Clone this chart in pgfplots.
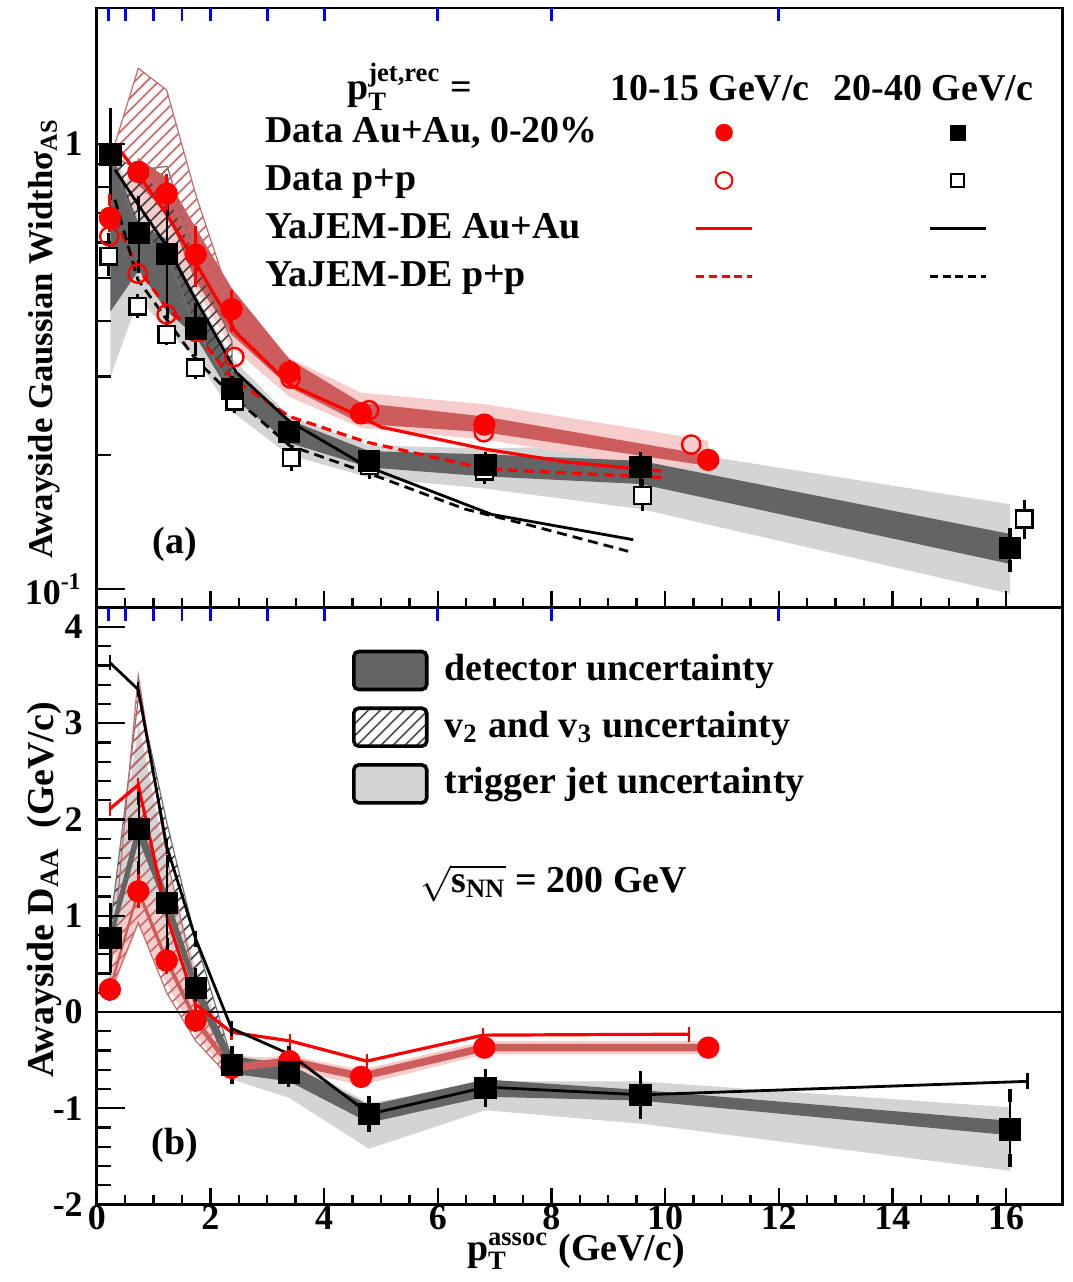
\documentclass[border=0pt]{standalone}
\usepackage{fontspec}
\setmainfont{Liberation Serif}
\usepackage{amsmath}
\usepackage{pgfplots}
\pgfplotsset{compat=1.18}
\usetikzlibrary{patterns}
\definecolor{detgray}{RGB}{100,100,100}
\definecolor{detred}{RGB}{205,92,92}
\definecolor{trggray}{RGB}{212,212,212}
\definecolor{trgred}{RGB}{246,204,204}
\definecolor{hatchred}{RGB}{200,105,105}
\pgfplotsset{
  mkleg/.style={legend image code/.code={\draw[##1] plot coordinates {(7pt,0pt)};}},
  lnleg/.style={legend image code/.code={\draw[##1] (0pt,0pt) -- (14pt,0pt);}},
  panel/.style={scale only axis, width=242pt, xmin=0, xmax=17,
    xtick={0,2,...,16}, minor x tick num=3, xtick pos=lower, ytick pos=left,
    tick align=inside, axis line style={line width=0.7pt},
    tick style={black, line width=0.6pt},
    xtick style={/pgfplots/major tick length=4.25pt,/pgfplots/minor tick length=2.5pt},
    ytick style={/pgfplots/major tick length=7pt,/pgfplots/minor tick length=3.5pt},
    axis on top,
    tick label style={font=\bfseries\fontsize{9}{10}\selectfont},
    xticklabel style={yshift=3.2pt},
    label style={font=\bfseries\fontsize{9.5}{11}\selectfont}},
  blueticks/.style={scale only axis, width=242pt, xmin=0, xmax=17, ymin=0, ymax=1,
    axis line style={draw=none}, ytick=\empty,
    xtick={0.2,0.5,1,1.5,2,3,4,6,8,12}, xticklabels={}, xtick pos=upper,
    tick align=inside, major tick length=3.3pt, tick style={blue, line width=0.7pt}},
  databar/.style={error bars/.cd, y dir=both, y explicit, error mark=-,
    error bar style={black, line width=0.6pt},
    error mark options={black, mark size=1.6pt, line width=0.8pt}},
}
\begin{document}
\begin{tikzpicture}[font=\bfseries\fontsize{9.5}{11}\selectfont]
% ---------------- TOP PANEL ----------------
\begin{axis}[panel, name=top, at={(0,0)}, anchor=north west, height=150.25pt,
  ymode=log, ymin=0.0907, ymax=2.02, ytick={0.1,1}, yticklabels={10\textsuperscript{-1},1},
  minor ytick={0.2,0.3,0.4,0.5,0.6,0.7,0.8,0.9}, xticklabels={},
  ylabel={Awayside Gaussian Widthσ$_{\text{AS}}$},
  ylabel style={at={(axis description cs:-0.054,0.449)}, rotate=0, anchor=center, font=\bfseries\fontsize{8.7}{10}\selectfont},
  legend columns=3, legend cell align=left,
  legend style={at={(rel axis cs:0.1736,0.8236)}, anchor=north west, draw=none, fill=none,
    inner sep=0pt, row sep=3pt,
    nodes={inner sep=0pt, text height=7pt, text depth=2pt},
    /tikz/column 2/.style={column sep=24.25pt},
    /tikz/column 4/.style={column sep=42.75pt}}]
% trigger jet bands
\addplot[fill=trggray, draw=none, forget plot] coordinates {
 (0.24,1.0) (0.74,0.70) (1.24,0.68) (1.74,0.46) (2.38,0.33) (3.38,0.245) (4.79,0.21) (6.84,0.207) (9.57,0.2097) (16.07,0.155)
 (16.07,0.0975) (9.57,0.1512) (6.84,0.168) (4.79,0.178) (3.38,0.20) (2.38,0.25) (1.74,0.33) (1.24,0.38) (0.74,0.45) (0.24,0.30)};
\addplot[fill=trgred, draw=none, forget plot] coordinates {
 (0.23,0.70) (0.73,0.93) (1.23,0.84) (1.74,0.62) (2.37,0.46) (3.39,0.33) (4.65,0.276) (6.82,0.26) (9.6,0.228) (10.76,0.215)
 (10.76,0.187) (9.6,0.19) (6.82,0.2166) (4.65,0.230) (3.39,0.27) (2.37,0.35) (1.74,0.47) (1.23,0.60) (0.73,0.72) (0.23,0.66)};
% detector bands
\addplot[fill=detgray, draw=none, forget plot] coordinates {
 (0.24,0.97) (0.74,0.66) (1.24,0.61) (1.74,0.447) (2.38,0.31) (3.38,0.24) (4.79,0.204) (6.84,0.2006) (9.57,0.194) (16.07,0.1329)
 (16.07,0.1138) (9.57,0.1721) (6.84,0.179) (4.79,0.1875) (3.38,0.213) (2.38,0.27) (1.74,0.369) (1.24,0.42) (0.74,0.52) (0.24,0.42)};
\addplot[fill=detred, draw=none, forget plot] coordinates {
 (0.72,0.93) (1.23,0.839) (1.74,0.648) (2.37,0.475) (3.39,0.328) (4.65,0.262) (6.82,0.244) (10.76,0.1997)
 (10.76,0.189) (6.82,0.225) (4.65,0.235) (3.39,0.284) (2.37,0.373) (1.74,0.491) (1.23,0.705) (0.72,0.81)};
% v2 v3 bands
\addplot[pattern=north east lines, pattern color=black!75, draw=black!55, line width=0.3pt, forget plot] coordinates {
 (0.24,0.945) (0.74,0.875) (1.24,0.89) (1.74,0.55) (2.38,0.36)
 (2.38,0.281) (1.74,0.385) (1.24,0.566) (0.74,0.631) (0.24,0.945)};
\addplot[pattern=north east lines, pattern color=hatchred, draw=hatchred, line width=0.3pt, forget plot] coordinates {
 (0.32,1.0) (0.73,1.479) (1.23,1.321) (1.74,0.77) (2.37,0.44)
 (2.37,0.425) (1.74,0.564) (1.23,0.773) (0.73,0.865) (0.32,1.0)};
% YaJEM-DE curves
\addplot[red, line width=0.8pt, forget plot] coordinates {
 (0.32,1.0) (0.75,0.847) (1.23,0.694) (1.74,0.541) (2.45,0.377) (3.39,0.288) (4.67,0.243) (5.0,0.231) (6.84,0.206) (8.24,0.193) (9.93,0.184)};
\addplot[red, line width=0.8pt, dash pattern=on 2.5pt off 1.5pt, forget plot] coordinates {
 (0.32,0.68) (0.72,0.527) (1.23,0.428) (1.74,0.377) (2.39,0.296) (3.39,0.244) (4.73,0.214) (6.84,0.186) (9.93,0.178)};
\addplot[black, line width=0.7pt, forget plot] coordinates {
 (0.32,0.875) (0.75,0.723) (1.23,0.589) (1.74,0.447) (2.45,0.307) (3.39,0.238) (4.73,0.189) (6.95,0.147) (9.44,0.129)};
\addplot[black, line width=0.7pt, dash pattern=on 2.5pt off 1.5pt, forget plot] coordinates {
 (0.32,0.749) (0.72,0.496) (1.23,0.403) (1.74,0.328) (2.45,0.267) (3.39,0.210) (4.73,0.183) (6.49,0.151) (7.65,0.1387) (9.35,0.1215)};
% data p+p
\addplot[only marks, mark=square*, mark size=2.1pt, mark options={fill=white, draw=black, line width=0.6pt}, forget plot, databar] coordinates {
 (0.21,0.559) += (0,0.051) -= (0,0.037)
 (0.72,0.432) += (0,0.012) -= (0,0.012)
 (1.23,0.373) += (0,0.008) -= (0,0.008)
 (1.74,0.314) += (0,0.008) -= (0,0.008)
 (2.43,0.264) += (0,0.007) -= (0,0.007)
 (3.42,0.197) += (0,0.007) -= (0,0.007)
 (4.80,0.189) += (0,0.006) -= (0,0.006)
 (6.82,0.184) += (0,0.006) -= (0,0.006)
 (9.60,0.162) += (0,0.009) -= (0,0.0075)
 (16.32,0.1436) += (0,0.010) -= (0,0.010)};
\addplot[only marks, mark=o, mark size=2.3pt, red, line width=0.6pt, forget plot] coordinates {
 (0.22,0.620) (0.72,0.511) (1.23,0.414) (1.74,0.378) (2.42,0.332) (3.41,0.297) (4.79,0.252) (6.81,0.225) (10.46,0.211)};
% data Au+Au
\addplot[only marks, mark=square*, mark size=2.6pt, black, forget plot, databar] coordinates {
 (0.24,0.945) += (0,0.22) -= (0,0.17)
 (0.74,0.631) += (0,0.107) -= (0,0.10)
 (1.24,0.566) += (0,0.145) -= (0,0.148)
 (1.74,0.385) += (0,0.04) -= (0,0.04)
 (2.38,0.281) += (0,0.01) -= (0,0.01)
 (3.38,0.225) += (0,0.008) -= (0,0.008)
 (4.79,0.194) += (0,0.005) -= (0,0.005)
 (6.84,0.190) += (0,0.006) -= (0,0.006)
 (9.57,0.188) += (0,0.008) -= (0,0.012)
 (16.07,0.1236) += (0,0.0093) -= (0,0.011)};
\addplot[only marks, mark=*, mark size=2.6pt, red, forget plot,
  error bars/.cd, y dir=both, y explicit, error mark=-,
  error bar style={red, line width=0.6pt}, error mark options={red, mark size=1.4pt, line width=0.8pt}] coordinates {
 (0.23,0.682) += (0,0.067) -= (0,0.028)
 (0.73,0.865) += (0,0.02) -= (0,0.02)
 (1.23,0.773) += (0,0.057) -= (0,0.04)
 (1.74,0.564) += (0,0.071) -= (0,0.073)
 (2.37,0.425) += (0,0.03) -= (0,0.036)
 (3.39,0.307) += (0,0.01) -= (0,0.01)
 (4.65,0.248) += (0,0.005) -= (0,0.005)
 (6.82,0.234) += (0,0.005) -= (0,0.005)
 (10.76,0.195) += (0,0.004) -= (0,0.004)};
% legend
\addlegendimage{empty legend}\addlegendentry{Data Au+Au, 0-20\%}
\addlegendimage{mkleg, only marks, mark=*, red, mark size=2pt}\addlegendentry{\mbox{}}
\addlegendimage{mkleg, only marks, mark=square*, black, mark size=1.8pt}\addlegendentry{\mbox{}}
\addlegendimage{empty legend}\addlegendentry{Data p+p}
\addlegendimage{mkleg, only marks, mark=o, red, mark size=2.1pt, line width=0.5pt}\addlegendentry{\mbox{}}
\addlegendimage{mkleg, only marks, mark=square, black, mark size=1.6pt, line width=0.5pt}\addlegendentry{\mbox{}}
\addlegendimage{empty legend}\addlegendentry{YaJEM-DE Au+Au}
\addlegendimage{lnleg, red, line width=0.8pt}\addlegendentry{\mbox{}}
\addlegendimage{lnleg, black, line width=0.8pt}\addlegendentry{\mbox{}}
\addlegendimage{empty legend}\addlegendentry{YaJEM-DE p+p}
\addlegendimage{lnleg, red, line width=0.8pt, dash pattern=on 2pt off 1.2pt}\addlegendentry{\mbox{}}
\addlegendimage{lnleg, black, line width=0.8pt, dash pattern=on 2pt off 1.2pt}\addlegendentry{\mbox{}}
\node at (rel axis cs:0.324,0.8686) {p$^{\text{jet,rec}}_{\text{T}}$ =};
\node at (rel axis cs:0.635,0.867) {10-15 GeV/c};
\node at (rel axis cs:0.866,0.867) {20-40 GeV/c};
\node at (rel axis cs:0.0806,0.1065) {(a)};
\end{axis}
\begin{scope}[overlay]
\begin{axis}[blueticks, at={(top.north west)}, anchor=north west, height=150.25pt]
\end{axis}
\end{scope}
% ---------------- BOTTOM PANEL ----------------
\begin{axis}[panel, name=bot, at={(top.south west)}, anchor=north west, height=149.5pt,
  ymin=-2, ymax=4.2, ytick={-2,-1,0,1,2,3,4}, yticklabels={-2,-1,0,1,2,3,4}, minor y tick num=4,
  xticklabels={0,2,4,6,8,10,12,14,16},
  xlabel={p\smash{$^{\text{assoc}}_{\text{T}}$} (GeV/c)},
  xlabel style={at={(axis description cs:0.496,-0.094)}, anchor=base},
  ylabel={Awayside D$_{\text{AA}}$\ \ (GeV/c)},
  ylabel style={at={(axis description cs:-0.054,0.527)}, anchor=center},
  legend cell align=left,
  legend style={at={(rel axis cs:0.2634,0.931)}, anchor=north west, draw=none, fill=none,
    inner sep=0pt, row sep=3.8pt,
    nodes={inner sep=0pt, text height=7pt, text depth=2pt},
    /tikz/column 1/.style={column sep=4pt}}]
% trigger bands
\addplot[fill=trggray, draw=none, forget plot] coordinates {
 (0.24,1.0) (0.74,3.0) (1.24,1.5) (1.74,0.45) (2.38,-0.45) (3.38,-0.49) (4.79,-0.95) (6.84,-0.72) (9.57,-0.72) (16.07,-0.99)
 (16.07,-1.65) (9.57,-1.16) (6.84,-1.02) (4.79,-1.42) (3.38,-0.89) (2.38,-0.70) (1.74,0.1) (1.24,0.6) (0.74,1.2) (0.24,0.5)};
\addplot[fill=trgred, draw=none, forget plot] coordinates {
 (0.23,0.35) (0.73,1.6) (1.23,0.75) (1.74,0.05) (2.37,-0.5) (3.39,-0.45) (4.65,-0.6) (6.82,-0.3) (10.76,-0.3)
 (10.76,-0.44) (6.82,-0.44) (4.65,-0.76) (3.39,-0.6) (2.37,-0.66) (1.74,-0.25) (1.23,0.3) (0.73,0.9) (0.23,0.15)};
% v2 v3 bands
\addplot[pattern=north east lines, pattern color=black!75, draw=black!55, line width=0.3pt, forget plot] coordinates {
 (0.24,0.9) (0.74,3.3) (1.24,1.95) (1.74,0.75) (2.38,-0.5)
 (2.38,-0.55) (1.74,0.25) (1.24,1.13) (0.74,1.9) (0.24,0.77)};
\addplot[pattern=north east lines, pattern color=hatchred, draw=hatchred, line width=0.3pt, forget plot] coordinates {
 (0.23,0.3) (0.73,3.5) (1.23,1.6) (1.74,0.3) (2.37,-0.5)
 (2.37,-0.7) (1.74,-0.3) (1.23,0.2) (0.73,0.93) (0.23,0.2)};
% detector bands
\addplot[fill=detgray, draw=none, forget plot] coordinates {
 (0.24,0.86) (0.74,2.02) (1.24,1.22) (1.74,0.34) (2.38,-0.46) (3.38,-0.54) (4.79,-0.97) (6.84,-0.70) (9.57,-0.81) (16.07,-1.13)
 (16.07,-1.28) (9.57,-0.92) (6.84,-0.88) (4.79,-1.15) (3.38,-0.72) (2.38,-0.64) (1.74,0.16) (1.24,1.04) (0.74,1.78) (0.24,0.68)};
\addplot[fill=detred, draw=none, forget plot] coordinates {
 (0.23,0.28) (0.73,1.30) (1.23,0.58) (1.74,-0.04) (2.37,-0.54) (3.39,-0.47) (4.65,-0.63) (6.82,-0.33) (10.76,-0.33)
 (10.76,-0.41) (6.82,-0.41) (4.65,-0.71) (3.39,-0.55) (2.37,-0.62) (1.74,-0.13) (1.23,0.49) (0.73,1.21) (0.23,0.19)};
% zero line
\addplot[black, line width=0.7pt, forget plot] coordinates {(0,0) (17,0)};
% YaJEM-DE
\addplot[red, line width=0.8pt, forget plot, error bars/.cd, y dir=both, y fixed=0.035, error mark=-,
  error bar style={red, line width=0.5pt}, error mark options={red, mark size=1pt, line width=0.6pt}] coordinates {
 (0.23,2.11) (0.73,2.36) (1.23,1.0) (1.74,0.08) (2.37,-0.21) (3.4,-0.30) (4.75,-0.51) (6.8,-0.24) (10.42,-0.23)};
\addplot[black, line width=0.7pt, forget plot, error bars/.cd, y dir=both, y fixed=0.04, error mark=-,
  error bar style={black, line width=0.5pt}, error mark options={black, mark size=1pt, line width=0.6pt}] coordinates {
 (0.23,3.63) (0.73,3.35) (1.23,1.72) (1.74,0.76) (2.37,-0.17) (3.4,-0.44) (4.8,-1.06) (6.85,-0.78) (9.6,-0.86) (16.38,-0.72)};
% data
\addplot[only marks, mark=*, mark size=2.6pt, red, forget plot,
  error bars/.cd, y dir=both, y explicit, error mark=-,
  error bar style={red, line width=0.6pt}, error mark options={red, mark size=1.4pt, line width=0.8pt}] coordinates {
 (0.23,0.234) +- (0,0.06)
 (0.73,1.254) +- (0,0.12)
 (1.23,0.535) +- (0,0.08)
 (1.74,-0.087) +- (0,0.06)
 (2.37,-0.58) +- (0,0.05)
 (3.39,-0.51) +- (0,0.05)
 (4.65,-0.674) +- (0,0.04)
 (6.82,-0.37) +- (0,0.03)
 (10.76,-0.37) +- (0,0.03)};
\addplot[only marks, mark=square*, mark size=2.6pt, black, forget plot, databar] coordinates {
 (0.24,0.77) += (0,0.30) -= (0,0.30)
 (0.74,1.90) += (0,0.32) -= (0,0.40)
 (1.24,1.13) += (0,0.44) -= (0,0.43)
 (1.74,0.25) += (0,0.14) -= (0,0.07)
 (2.38,-0.55) += (0,0.13) -= (0,0.13)
 (3.38,-0.63) += (0,0.21) -= (0,0.08)
 (4.79,-1.06) += (0,0.12) -= (0,0.12)
 (6.84,-0.79) += (0,0.13) -= (0,0.13)
 (9.57,-0.86) += (0,0.18) -= (0,0.18)
 (16.07,-1.22) += (0,0.35) -= (0,0.32)};
% legend
\addlegendimage{legend image code/.code={\draw[rounded corners=1.2pt, line width=0.9pt, fill=detgray] (0pt,-4.75pt) rectangle (18.25pt,4.75pt);}}
\addlegendentry{detector uncertainty}
\addlegendimage{legend image code/.code={\draw[rounded corners=1.2pt, line width=0.9pt, pattern=north east lines, pattern color=black!70] (0pt,-4.75pt) rectangle (18.25pt,4.75pt);}}
\addlegendentry{v$_{\text{2}}$ and v$_{\text{3}}$ uncertainty}
\addlegendimage{legend image code/.code={\draw[rounded corners=1.2pt, line width=0.9pt, fill=trggray] (0pt,-4.75pt) rectangle (18.25pt,4.75pt);}}
\addlegendentry{trigger jet uncertainty}
\node at (rel axis cs:0.473,0.538) {$\sqrt{\text{s}_{\text{NN}}}$ = 200 GeV};
\node at (rel axis cs:0.0806,0.0987) {(b)};
\end{axis}
\begin{scope}[overlay]
\begin{axis}[blueticks, at={(bot.north west)}, anchor=north west, height=149.5pt]
\end{axis}
\end{scope}
\path (-24.25pt,2pt) rectangle (244.5pt,-318.5pt);
\end{tikzpicture}
\end{document}
